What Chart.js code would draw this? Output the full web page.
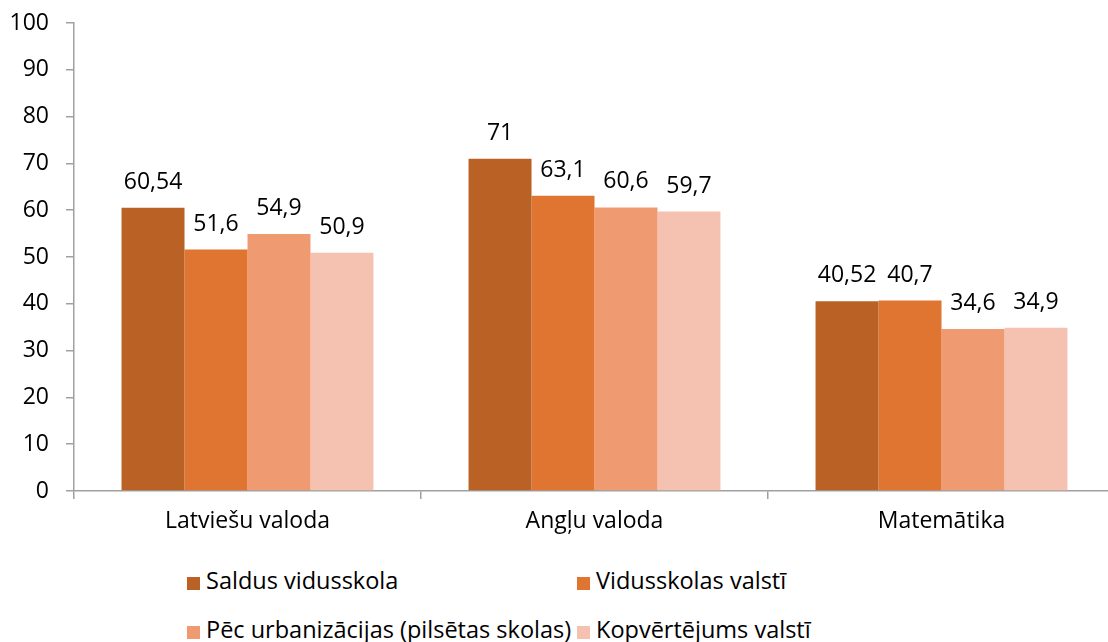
<!DOCTYPE html>
<html>
<head>
<meta charset="utf-8">
<script src="https://cdn.jsdelivr.net/npm/chart.js@4.4.0/dist/chart.umd.min.js"></script>
<style>
  html, body { margin: 0; padding: 0; background: #fff; overflow: hidden; }
  #wrap { position: absolute; left: 0; top: 0; width: 1116px; height: 560px; }
  .legend { position: absolute; font-family: "Open Sans", sans-serif; font-size: 23.5px; color: #000; }
  .item { position: absolute; white-space: nowrap; line-height: 28px; }
  .item span.box { display: inline-block; width: 13px; height: 13px; margin-right: 6px; vertical-align: -1px; }
</style>
</head>
<body>
<div id="wrap"><canvas id="chart"></canvas></div>
<div class="legend" id="legend"></div>
<script>
  // chart data
  var subjects = ['Latviešu valoda', 'Angļu valoda', 'Matemātika'];
  var seriesNames = ['Saldus vidusskola', 'Vidusskolas valstī', 'Pēc urbanizācijas (pilsētas skolas)', 'Kopvērtējums valstī'];
  var saldus = [60.54, 71, 40.52];
  var vidusskolas = [51.6, 63.1, 40.7];
  var urbanizacija = [54.9, 60.6, 34.6];
  var kopvertejums = [50.9, 59.7, 34.9];
  var yTicks = [0, 10, 20, 30, 40, 50, 60, 70, 80, 90, 100];

  var colors = ['#BA6125', '#DF7530', '#F09A72', '#F5C2B1'];
  var axisColor = '#a0a0a0';
  var font = { family: '"Open Sans", sans-serif', size: 23 };

  // draw values above bars, with decimal comma
  var valueLabels = {
    id: 'valueLabels',
    afterDatasetsDraw: function (chart) {
      var ctx = chart.ctx;
      ctx.save();
      ctx.font = '23px "Open Sans", sans-serif';
      ctx.fillStyle = '#000';
      ctx.textAlign = 'center';
      ctx.textBaseline = 'alphabetic';
      chart.data.datasets.forEach(function (ds, i) {
        chart.getDatasetMeta(i).data.forEach(function (bar, j) {
          var txt = String(ds.data[j]).replace('.', ',');
          ctx.fillText(txt, bar.x, bar.y - 19);
        });
      });
      ctx.restore();
    }
  };

  var allSeries = [saldus, vidusskolas, urbanizacija, kopvertejums];
  var ctx = document.getElementById('chart').getContext('2d');
  var chart = new Chart(ctx, {
    type: 'bar',
    data: {
      labels: subjects,
      datasets: allSeries.map(function (d, i) {
        return {
          label: seriesNames[i],
          data: d,
          backgroundColor: colors[i],
          borderWidth: 0,
          categoryPercentage: 0.726,
          barPercentage: 1
        };
      })
    },
    options: {
      responsive: true,
      maintainAspectRatio: false,
      animation: false,
      layout: { padding: { top: 23, left: 0, right: 1, bottom: 0 } },
      plugins: {
        legend: { display: false },
        tooltip: { enabled: false }
      },
      scales: {
        x: {
          afterFit: function (s) { s.height = 69; },
          grid: { display: true, drawOnChartArea: false, offset: true, tickLength: 8, color: axisColor, lineWidth: 1.5 },
          border: { color: axisColor, width: 1.5 },
          ticks: { color: '#000', font: font, padding: 9 }
        },
        y: {
          min: 0,
          max: 100,
          afterFit: function (s) { s.width = 74; s.paddingTop = 0; s.paddingBottom = 0; },
          afterBuildTicks: function (s) { s.ticks = yTicks.map(function (v) { return { value: v }; }); },
          grid: { display: true, drawOnChartArea: false, tickLength: 8, color: axisColor, lineWidth: 1.5 },
          border: { color: axisColor, width: 1.5 },
          ticks: { color: '#000', font: font, padding: 17 }
        }
      }
    },
    plugins: [valueLabels]
  });

  // legend, two columns like the original
  var legendPos = [[187, 566], [577, 566], [187, 615], [577, 615]];
  var legend = document.getElementById('legend');
  seriesNames.forEach(function (name, i) {
    var el = document.createElement('div');
    el.className = 'item';
    el.style.left = legendPos[i][0] + 'px';
    el.style.top = legendPos[i][1] + 'px';
    el.innerHTML = '<span class="box" style="background:' + colors[i] + '"></span>' + name;
    legend.appendChild(el);
  });
</script>
</body>
</html>
